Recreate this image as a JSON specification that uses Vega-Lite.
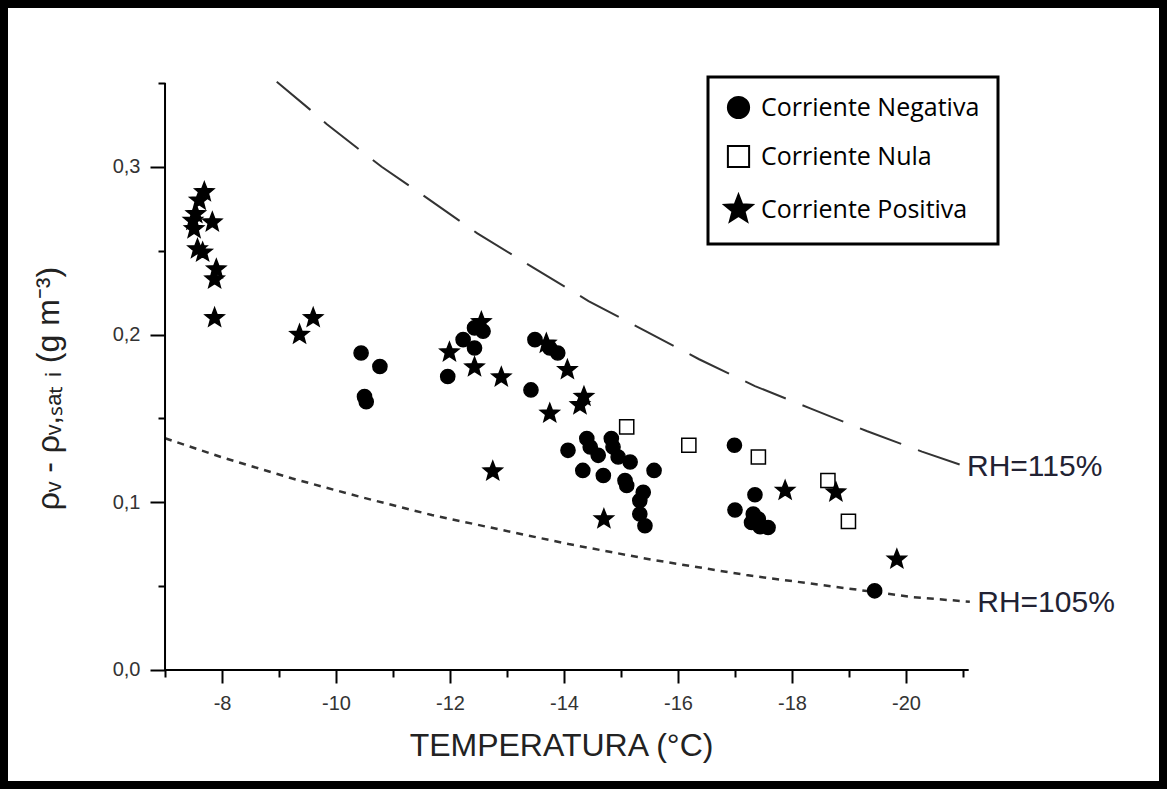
{
  "$schema": "https://vega.github.io/schema/vega-lite/v6.json",
  "width": 1159,
  "height": 781,
  "padding": 4,
  "autosize": {"type": "none"},
  "background": "white",
  "config": {
    "view": {"stroke": "black", "strokeWidth": 8},
    "axis": {
      "grid": false,
      "domain": false,
      "labelFont": "Liberation Sans",
      "labelFontSize": 20,
      "labelColor": "#333333",
      "titleFont": "Liberation Sans",
      "titleColor": "#222222",
      "titleFontWeight": "normal",
      "tickColor": "black",
      "tickWidth": 2,
      "labelOverlap": false,
      "labelFlush": false
    },
    "legend": {
      "strokeWidth": 3,
      "labelFont": "Open Sans",
      "labelFontSize": 25,
      "labelColor": "black",
      "labelLimit": 400,
      "symbolSize": 450,
      "symbolStrokeWidth": 2,
      "strokeColor": "black",
      "fillColor": "white",
      "padding": 18,
      "rowPadding": 18,
      "labelOffset": 10
    }
  },
  "encoding": {
    "x": {
      "field": "temp",
      "type": "quantitative",
      "scale": {"domain": [-24.509, -4.175], "reverse": true, "nice": false, "zero": false},
      "axis": {
        "values": [-7, -8, -9, -10, -11, -12, -13, -14, -15, -16, -17, -18, -19, -20, -21],
        "offset": -115,
        "labelExpr": "datum.value % 2 == 0 ? '' + datum.value : ''",
        "tickSize": {"condition": {"test": "datum.value % 2 == 0", "value": 13}, "value": 7},
        "labelPadding": 10,
        "title": "TEMPERATURA (°C)",
        "titleFontSize": 32,
        "titleX": 557,
        "titleY": 75,
        "titleAlign": "center",
        "titleBaseline": "middle"
      }
    },
    "y": {
      "field": "val",
      "type": "quantitative",
      "scale": {"domain": [-0.06858, 0.39714], "nice": false, "zero": false},
      "axis": {
        "values": [0, 0.05, 0.1, 0.15, 0.2, 0.25, 0.3, 0.35],
        "offset": -161,
        "labelExpr": "round(datum.value * 100) % 10 == 0 ? replace(format(datum.value, '.1f'), '.', ',') : ''",
        "tickSize": {"condition": {"test": "round(datum.value * 100) % 10 == 0", "value": 15}, "value": 7},
        "labelPadding": 10,
        "title": "ρᵥ - ρᵥ,ₛₐₜ ᵢ (g m⁻³)",
        "titleFontSize": 32,
        "titleX": -117,
        "titleY": 384,
        "titleAngle": -90,
        "titleAlign": "center",
        "titleBaseline": "middle"
      }
    }
  },
  "layer": [
    {
      "data": {
        "values": [
          {"curva": "RH=115%", "temp": -8.96, "val": 0.3508},
          {"curva": "RH=115%", "temp": -9.54, "val": 0.3343},
          {"curva": "RH=115%", "temp": -9.84, "val": 0.3254},
          {"curva": "RH=115%", "temp": -10.53, "val": 0.3071},
          {"curva": "RH=115%", "temp": -10.8, "val": 0.3001},
          {"curva": "RH=115%", "temp": -11.5, "val": 0.2837},
          {"curva": "RH=115%", "temp": -12.48, "val": 0.2604},
          {"curva": "RH=115%", "temp": -13.46, "val": 0.2399},
          {"curva": "RH=115%", "temp": -14.43, "val": 0.22},
          {"curva": "RH=115%", "temp": -15.39, "val": 0.2028},
          {"curva": "RH=115%", "temp": -16.37, "val": 0.1853},
          {"curva": "RH=115%", "temp": -17.35, "val": 0.1693},
          {"curva": "RH=115%", "temp": -18.32, "val": 0.156},
          {"curva": "RH=115%", "temp": -19.31, "val": 0.1425},
          {"curva": "RH=115%", "temp": -20.28, "val": 0.1302},
          {"curva": "RH=115%", "temp": -21.06, "val": 0.1212}
        ]
      },
      "mark": {"type": "line", "stroke": "#333333", "strokeWidth": 2, "strokeDash": [44, 18]}
    },
    {
      "data": {
        "values": [
          {"curva": "RH=105%", "temp": -7.0, "val": 0.1382},
          {"curva": "RH=105%", "temp": -8.0, "val": 0.1268},
          {"curva": "RH=105%", "temp": -9.22, "val": 0.1143},
          {"curva": "RH=105%", "temp": -10.45, "val": 0.103},
          {"curva": "RH=105%", "temp": -11.68, "val": 0.0924},
          {"curva": "RH=105%", "temp": -12.91, "val": 0.0835},
          {"curva": "RH=105%", "temp": -14.08, "val": 0.0751},
          {"curva": "RH=105%", "temp": -15.57, "val": 0.0656},
          {"curva": "RH=105%", "temp": -17.2, "val": 0.0566},
          {"curva": "RH=105%", "temp": -18.96, "val": 0.0487},
          {"curva": "RH=105%", "temp": -20.13, "val": 0.0434},
          {"curva": "RH=105%", "temp": -21.12, "val": 0.0407}
        ]
      },
      "mark": {"type": "line", "stroke": "#333333", "strokeWidth": 2.5, "strokeDash": [7, 6]}
    },
    {
      "data": {
        "values": [
          {"eje": "x", "temp": -7, "val": 0},
          {"eje": "x", "temp": -21.1, "val": 0},
          {"eje": "y", "temp": -7, "val": 0},
          {"eje": "y", "temp": -7, "val": 0.35}
        ]
      },
      "mark": {"type": "line", "stroke": "black", "strokeWidth": 2},
      "encoding": {
        "detail": {"field": "eje", "type": "nominal"},
        "order": {"field": "val", "type": "quantitative"}
      }
    },
    {
      "data": {
        "values": [
          {"etiqueta": "RH=115%", "temp": -21.07, "val": 0.121},
          {"etiqueta": "RH=105%", "temp": -21.25, "val": 0.04}
        ]
      },
      "mark": {"type": "text", "align": "left", "baseline": "middle", "font": "Liberation Sans", "fontSize": 30, "color": "#222233"},
      "encoding": {
        "text": {"field": "etiqueta", "type": "nominal"}
      }
    },
    {
      "data": {
        "values": [
          {"serie": "Corriente Negativa", "temp": -10.44, "val": 0.189},
          {"serie": "Corriente Negativa", "temp": -10.77, "val": 0.181},
          {"serie": "Corriente Negativa", "temp": -10.5, "val": 0.163},
          {"serie": "Corriente Negativa", "temp": -10.53, "val": 0.16},
          {"serie": "Corriente Negativa", "temp": -11.96, "val": 0.175},
          {"serie": "Corriente Negativa", "temp": -12.23, "val": 0.197},
          {"serie": "Corriente Negativa", "temp": -12.43, "val": 0.192},
          {"serie": "Corriente Negativa", "temp": -12.43, "val": 0.204},
          {"serie": "Corriente Negativa", "temp": -12.58, "val": 0.202},
          {"serie": "Corriente Negativa", "temp": -13.49, "val": 0.197},
          {"serie": "Corriente Negativa", "temp": -13.75, "val": 0.192},
          {"serie": "Corriente Negativa", "temp": -13.89, "val": 0.189},
          {"serie": "Corriente Negativa", "temp": -13.42, "val": 0.167},
          {"serie": "Corriente Negativa", "temp": -14.07, "val": 0.131},
          {"serie": "Corriente Negativa", "temp": -14.4, "val": 0.138},
          {"serie": "Corriente Negativa", "temp": -14.46, "val": 0.133},
          {"serie": "Corriente Negativa", "temp": -14.6, "val": 0.128},
          {"serie": "Corriente Negativa", "temp": -14.83, "val": 0.138},
          {"serie": "Corriente Negativa", "temp": -14.86, "val": 0.133},
          {"serie": "Corriente Negativa", "temp": -14.95, "val": 0.127},
          {"serie": "Corriente Negativa", "temp": -15.16, "val": 0.124},
          {"serie": "Corriente Negativa", "temp": -14.33, "val": 0.119},
          {"serie": "Corriente Negativa", "temp": -14.69, "val": 0.116},
          {"serie": "Corriente Negativa", "temp": -15.07, "val": 0.113},
          {"serie": "Corriente Negativa", "temp": -15.1, "val": 0.11},
          {"serie": "Corriente Negativa", "temp": -15.58, "val": 0.119},
          {"serie": "Corriente Negativa", "temp": -15.39, "val": 0.106},
          {"serie": "Corriente Negativa", "temp": -15.33, "val": 0.101},
          {"serie": "Corriente Negativa", "temp": -15.33, "val": 0.093},
          {"serie": "Corriente Negativa", "temp": -15.42, "val": 0.086},
          {"serie": "Corriente Negativa", "temp": -16.99, "val": 0.134},
          {"serie": "Corriente Negativa", "temp": -17.35, "val": 0.1045},
          {"serie": "Corriente Negativa", "temp": -17.0, "val": 0.0954},
          {"serie": "Corriente Negativa", "temp": -17.32, "val": 0.093},
          {"serie": "Corriente Negativa", "temp": -17.41, "val": 0.09},
          {"serie": "Corriente Negativa", "temp": -17.44, "val": 0.0854},
          {"serie": "Corriente Negativa", "temp": -17.58, "val": 0.085},
          {"serie": "Corriente Negativa", "temp": -17.29, "val": 0.088},
          {"serie": "Corriente Negativa", "temp": -19.45, "val": 0.0472},
          {"serie": "Corriente Nula", "temp": -15.1, "val": 0.145},
          {"serie": "Corriente Nula", "temp": -16.19, "val": 0.134},
          {"serie": "Corriente Nula", "temp": -17.41, "val": 0.127},
          {"serie": "Corriente Nula", "temp": -18.63, "val": 0.113},
          {"serie": "Corriente Nula", "temp": -18.99, "val": 0.0886},
          {"serie": "Corriente Positiva", "temp": -7.69, "val": 0.285},
          {"serie": "Corriente Positiva", "temp": -7.6, "val": 0.28},
          {"serie": "Corriente Positiva", "temp": -7.54, "val": 0.272},
          {"serie": "Corriente Positiva", "temp": -7.49, "val": 0.268},
          {"serie": "Corriente Positiva", "temp": -7.51, "val": 0.263},
          {"serie": "Corriente Positiva", "temp": -7.83, "val": 0.267},
          {"serie": "Corriente Positiva", "temp": -7.57, "val": 0.251},
          {"serie": "Corriente Positiva", "temp": -7.66, "val": 0.249},
          {"serie": "Corriente Positiva", "temp": -7.9, "val": 0.239},
          {"serie": "Corriente Positiva", "temp": -7.87, "val": 0.233},
          {"serie": "Corriente Positiva", "temp": -7.87, "val": 0.21},
          {"serie": "Corriente Positiva", "temp": -9.6, "val": 0.21},
          {"serie": "Corriente Positiva", "temp": -9.36, "val": 0.2},
          {"serie": "Corriente Positiva", "temp": -11.99, "val": 0.1895},
          {"serie": "Corriente Positiva", "temp": -12.43, "val": 0.1806},
          {"serie": "Corriente Positiva", "temp": -12.9, "val": 0.1746},
          {"serie": "Corriente Positiva", "temp": -12.55, "val": 0.2075},
          {"serie": "Corriente Positiva", "temp": -13.69, "val": 0.1947},
          {"serie": "Corriente Positiva", "temp": -14.06, "val": 0.179},
          {"serie": "Corriente Positiva", "temp": -14.35, "val": 0.163},
          {"serie": "Corriente Positiva", "temp": -14.28, "val": 0.158},
          {"serie": "Corriente Positiva", "temp": -13.75, "val": 0.153},
          {"serie": "Corriente Positiva", "temp": -12.75, "val": 0.1185},
          {"serie": "Corriente Positiva", "temp": -14.7, "val": 0.09},
          {"serie": "Corriente Positiva", "temp": -17.88, "val": 0.107},
          {"serie": "Corriente Positiva", "temp": -18.77, "val": 0.106},
          {"serie": "Corriente Positiva", "temp": -19.84, "val": 0.066}
        ]
      },
      "mark": {"type": "point", "filled": true, "size": 200, "stroke": "black", "strokeWidth": 1.5, "opacity": 1},
      "encoding": {
        "shape": {
          "field": "serie",
          "type": "nominal",
          "scale": {
            "domain": ["Corriente Negativa", "Corriente Nula", "Corriente Positiva"],
            "range": ["circle", "square", "M0,-1.4L0.3527,-0.4854L1.3315,-0.4326L0.5706,0.1854L0.8229,1.1326L0,0.6L-0.8229,1.1326L-0.5706,0.1854L-1.3315,-0.4326L-0.3527,-0.4854Z"]
          },
          "legend": {"orient": "none", "legendX": 704, "legendY": 73, "title": null}
        },
        "fill": {
          "field": "serie",
          "type": "nominal",
          "scale": {"domain": ["Corriente Negativa", "Corriente Nula", "Corriente Positiva"], "range": ["black", "white", "black"]},
          "legend": {"orient": "none", "legendX": 704, "legendY": 73, "title": null}
        }
      }
    }
  ]
}
